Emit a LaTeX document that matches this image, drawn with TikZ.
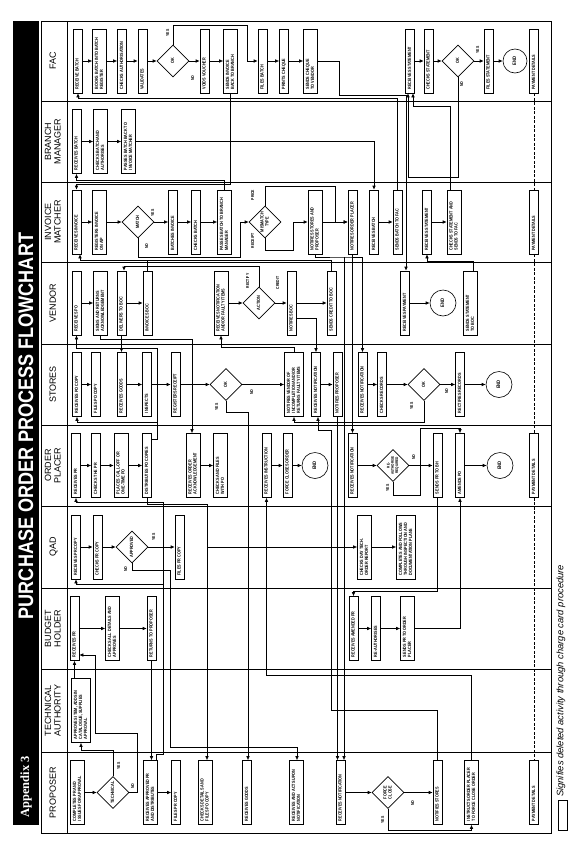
\documentclass[tikz,border=0pt]{standalone}
\usepackage{fontspec}
\usepackage{graphicx}
\setmainfont{Liberation Sans}
\newfontfamily\boxfont{Liberation Sans}[FakeStretch=0.82]
\newfontfamily\appxfont{Liberation Serif}
\usetikzlibrary{shapes.geometric,arrows.meta}

\newcommand\rt[1]{\rotatebox{90}{\begin{tabular}{@{\hspace{1.5pt}}l@{}}#1\end{tabular}}}
\newcommand\rc[1]{\rotatebox{90}{\begin{tabular}{@{}c@{}}#1\end{tabular}}}

\begin{document}
\begin{tikzpicture}
  [x=1pt,y=-1pt,
   box/.style={draw,fill=white,line width=0.6pt,inner sep=2pt,
     text height=60pt,text depth=0pt,
     font=\boxfont\bfseries\fontsize{4.6}{5}\selectfont},
   dec/.style={diamond,aspect=1,draw,fill=white,line width=0.6pt,
     inner sep=0pt,minimum size=32pt,
     font=\boxfont\bfseries\fontsize{4.6}{5}\selectfont},
   endc/.style={circle,draw,fill=white,line width=0.6pt,inner sep=0pt,
     minimum size=26pt,font=\boxfont\bfseries\fontsize{5}{6}\selectfont},
   yn/.style={inner sep=0pt,font=\boxfont\bfseries\fontsize{4.2}{5}\selectfont},
   lanehead/.style={inner sep=0pt,font=\fontsize{9}{9.5}\selectfont},
   arr/.style={line width=0.6pt,-{Latex[length=4pt,width=3.5pt]}},
   pdline/.style={line width=0.5pt,dash pattern=on 3pt off 1.5pt}]
\useasboundingbox (0,0) rectangle (570,841);
\fill [white] (0,0) rectangle (570,841);

\fill (13,21) rectangle (39,825);
\path
    (26,426) node [text=white,inner sep=0pt,
      font=\bfseries\fontsize{21}{21}\selectfont] (title)
      {\rotatebox{90}{\scalebox{0.86}[1]{PURCHASE ORDER PROCESS FLOWCHART}}}
    (26,787) node [text=white,inner sep=0pt,
      font=\appxfont\bfseries\fontsize{12.5}{13}\selectfont] (appx)
      {\rotatebox{90}{Appendix 3}};

\draw [line width=0.9pt] (41,21) rectangle (551,833);
\draw [line width=0.9pt] (67,21) -- (67,833);
\foreach \ly in {101,182,262,344,425,506,588,669,752}
    \draw [line width=0.9pt] (41,\ly) -- (551,\ly);

\path
    (54,61) node [lanehead] (hfac) {\rc{FAC}}
    (54,141.5) node [lanehead] (hbm) {\rc{BRANCH\\MANAGER}}
    (54,222) node [lanehead] (him) {\rc{INVOICE\\MATCHER}}
    (54,303) node [lanehead] (hven) {\rc{VENDOR}}
    (54,384.5) node [lanehead] (hsto) {\rc{STORES}}
    (54,465.5) node [lanehead] (hop) {\rc{ORDER\\PLACER}}
    (54,547) node [lanehead] (hqad) {\rc{QAD}}
    (54,628.5) node [lanehead] (hbh) {\rc{BUDGET\\HOLDER}}
    (54,710.5) node [lanehead] (hta) {\rc{TECHNICAL\\AUTHORITY}}
    (54,792.5) node [lanehead] (hpro) {\rc{PROPOSER}};

\path
    (77.5,61) node [box] (fac1) {\rt{RECEIVE BATCH}}
    (99.5,61) node [box] (fac2) {\rt{BOOKS BATCH INTO BATCH\\REGISTER}}
    (122,61) node [box] (fac3) {\rt{CHECKS AUTHORISATION}}
    (142.5,61) node [box] (fac4) {\rt{VALIDATES}}
    (173,61) node [dec] (facok) {\rc{OK}}
    (204.5,61) node [box] (fac5) {\rt{VOIDS VOUCHER}}
    (230.5,61) node [box] (fac6) {\rt{SENDS INVOICE\\BACK TO BRANCH}}
    (262.5,61) node [box] (fac7) {\rt{FILES BATCH}}
    (284,61) node [box] (fac8) {\rt{PRINTS CHEQUE}}
    (310.5,61) node [box] (fac9) {\rt{SENDS CHEQUE\\TO VENDOR}}
    (410,61) node [box] (fac10) {\rt{RECEIVES STATEMENT}}
    (428.5,61) node [box] (fac11) {\rt{CHECKS STATEMENT}}
    (458,61) node [dec] (facok2) {\rc{OK}}
    (488.5,61) node [box] (fac12) {\rt{FILES STATEMENT}}
    (515,61) node [endc,minimum size=24pt] (facend) {\rc{END}}
    (534,61) node [box] (facpd) {\rt{PAYMENT DETAILS}};

\path
    (76.5,141.5) node [box] (bm1) {\rt{RECEIVES BATCH}}
    (100.5,141.5) node [box] (bm2) {\rt{CHECKS BATCH AND\\AUTHORISES}}
    (128.5,141.5) node [box] (bm3) {\rt{PASSES BATCH BACK TO\\INVOICE MATCHER}};

\path
    (76.5,222) node [box] (im1) {\rt{RECEIVES INVOICE}}
    (99.5,222) node [box] (im2) {\rt{REGISTERS INVOICE\\ON A/P}}
    (138,222) node [dec] (immatch) {\rc{MATCH}}
    (173,222) node [box] (im3) {\rt{BATCHES INVOICE}}
    (196,222) node [box] (im4) {\rt{CHECKS BATCH}}
    (224.5,222) node [box] (im5) {\rt{PASSES BATCH TO BRANCH\\MANAGER}}
    (265,222) node [dec] (immis) {\rc{MISMATCH\\TYPE}}
    (315,222) node [box] (im6) {\rt{NOTIFIES STORES AND\\PROPOSER}}
    (352.5,222) node [box] (im7) {\rt{NOTIFIES ORDER PLACER}}
    (374,222) node [box] (im8) {\rt{RECEIVES BATCH}}
    (397.5,222) node [box] (im9) {\rt{SENDS BATCH TO FAC}}
    (427,222) node [box] (im10) {\rt{RECEIVES STATEMENT}}
    (454,222) node [box] (im11) {\rt{CHECKS STATEMENT AND\\SENDS TO FAC}}
    (534,222) node [box] (impd) {\rt{PAYMENT DETAILS}};

\path
    (76.5,303) node [box] (v1) {\rt{RECEIVES PO}}
    (100.5,303) node [box] (v2) {\rt{SIGNS AND RETURNS\\ACKNOWLEDGEMENT}}
    (121.5,303) node [box] (v3) {\rt{DELIVERS TO BOC}}
    (147.5,303) node [box] (v4) {\rt{INVOICES BOC}}
    (221,303) node [box] (v5) {\rt{RECEIVES NOTIFICATION\\AND/OR FAULTY ITEMS}}
    (259,303) node [dec] (vact) {\rc{ACTION}}
    (291.5,303) node [box] (v6) {\rt{NOTIFIES BOC}}
    (331.5,303) node [box] (v7) {\rt{SENDS CREDIT TO BOC}}
    (405,303) node [box] (v8) {\rt{RECEIVES PAYMENT}}
    (443,303) node [endc] (vend) {\rc{END}}
    (470.5,303) node [box] (v9) {\rt{SENDS STATEMENT\\TO BOC}};

\path
    (77,384.5) node [box] (s1) {\rt{RECEIVES PO COPY}}
    (96,384.5) node [box] (s2) {\rt{FILES PO COPY}}
    (121.5,384.5) node [box] (s3) {\rt{RECEIVES GOODS}}
    (147,384.5) node [box] (s4) {\rt{INSPECTS}}
    (175.5,384.5) node [box] (s5) {\rt{REGISTERS RECEIPT}}
    (226,384.5) node [dec] (sok) {\rc{OK}}
    (294,384.5) node [box] (s6)
      {\rt{NOTIFIES VENDOR OF\\INCOMPLETION AND/OR\\RETURNS FAULTY ITEMS}}
    (316,384.5) node [box] (s7) {\rt{RECEIVES NOTIFICATION}}
    (337.5,384.5) node [box] (s8) {\rt{NOTIFIES PROPOSER}}
    (362.5,384.5) node [box] (s9) {\rt{RECEIVES NOTIFICATION}}
    (382,384.5) node [box] (s10) {\rt{CHECKS RECORDS}}
    (424,384.5) node [dec] (sok2) {\rc{OK}}
    (460,384.5) node [box] (s11) {\rt{RECTIFIES RECORDS}}
    (499,384.5) node [endc] (send) {\rc{END}};

\path
    (76,465.5) node [box] (op1) {\rt{RECEIVES PR}}
    (96,465.5) node [box] (op2) {\rt{CHECKS THE PR}}
    (121,465.5) node [box] (op3) {\rt{PLACES CALL-OFF OR\\ONE-TIME PO}}
    (147,465.5) node [box] (op4) {\rt{DISTRIBUTES PO COPIES}}
    (193,465.5) node [box] (op5) {\rt{RECEIVES ORDER\\ACKNOWLEDGEMENT}}
    (220.5,465.5) node [box] (op6) {\rt{CHECKS AND FILES\\WITH PO}}
    (266.5,465.5) node [box] (op7) {\rt{RECEIVES INSTRUCTION}}
    (287.5,465.5) node [box] (op8) {\rt{FORCE CLOSES ORDER}}
    (315,465.5) node [endc] (opend) {\rc{END}}
    (352.5,465.5) node [box] (op9) {\rt{RECEIVES NOTIFICATION}}
    (393,465.5) node [dec,font=\boxfont\bfseries\fontsize{3.8}{4.2}\selectfont]
      (opre) {\rc{RE-\\AUTHORISE\\REQUIRED}}
    (437.5,465.5) node [box] (op10) {\rt{SENDS PR TO BH}}
    (460,465.5) node [box] (op11) {\rt{AMENDS PO}}
    (500,465.5) node [endc] (opend2) {\rc{END}}
    (534,465.5) node [box] (oppd) {\rt{PAYMENT DETAILS}};

\path
    (76,547) node [box] (q1) {\rt{RECEIVES PR COPY}}
    (97.5,547) node [box] (q2) {\rt{CHECKS PR COPY}}
    (132,547) node [dec] (qapp) {\rc{APPROVED}}
    (179.5,547) node [box] (q3) {\rt{FILES PR COPY}}
    (364.5,547) node [box] (q4) {\rt{CHECKS DAY TECH.\\ORDER REPORT}}
    (406,547) node [box] (q5)
      {\rt{COMPLETES AND FOLLOWS\\THROUGH INSPECTION AND\\DOCUMENTATION PLANS}};

\path
    (74.5,628.5) node [box] (b1) {\rt{RECEIVES PR}}
    (112.5,628.5) node [box] (b2) {\rt{CHECKS ALL DETAILS AND\\APPROVES}}
    (151.5,628.5) node [box] (b3) {\rt{RETURNS TO PROPOSER}}
    (353.5,628.5) node [box] (b4) {\rt{RECEIVES AMENDED PR}}
    (376,628.5) node [box] (b5) {\rt{RE-AUTHORISES}}
    (407.5,628.5) node [box] (b6) {\rt{SENDS PR TO ORDER\\PLACER}};

\path
    (81,710.5) node [box] (t1)
      {\rt{APPROVES ITEM, ADDS IN\\CATALOGUE, SUPPLIES\\APPROVAL}};

\path
    (77.5,792.5) node [box] (p1) {\rt{COMPLETES PR AND\\ISSUES FOR APPROVAL}}
    (113,792.5) node [dec] (ptech) {\rc{TECHNICAL}}
    (150.5,792.5) node [box] (p2) {\rt{RECEIVES APPROVED PR\\AND DISTRIBUTES}}
    (176,792.5) node [box] (p3) {\rt{FILES PR COPY}}
    (205,792.5) node [box] (p4) {\rt{CHECKS DETAILS AND\\FILES PO COPY}}
    (247,792.5) node [box] (p5) {\rt{RECEIVES GOODS}}
    (296.5,792.5) node [box] (p6) {\rt{RECEIVES AND ACTS UPON\\NOTIFICATION}}
    (340.5,792.5) node [box] (p7) {\rt{RECEIVES NOTIFICATION}}
    (388,792.5) node [dec] (pforce) {\rc{FORCE\\CLOSE}}
    (437.5,792.5) node [box] (p8) {\rt{NOTIFIES STORES}}
    (471.5,792.5) node [box] (p9) {\rt{INSTRUCTS ORDER PLACER\\TO FORCE CLOSE ORDER}}
    (534,792.5) node [box] (ppd) {\rt{PAYMENT DETAILS}};

\path
    (168,33) node [yn] (lfy) {\rc{YES}}
    (193,78) node [yn] (lfn) {\rc{NO}}
    (478,50) node [yn] (lf2y) {\rc{YES}}
    (462,84) node [yn] (lf2n) {\rc{NO}}
    (153,213) node [yn] (lmy) {\rc{YES}}
    (147,246) node [yn] (lmn) {\rc{NO}}
    (253,195) node [yn] (lmp) {\rc{PRICE}}
    (253,241) node [yn] (lmr) {\rc{RECEIPT}}
    (248,281) node [yn] (lvr) {\rc{RECTIFY}}
    (278,283) node [yn] (lvc) {\rc{CREDIT}}
    (217,407) node [yn] (lsy) {\rc{YES}}
    (252,392) node [yn] (lsn) {\rc{NO}}
    (412,406) node [yn] (ls2y) {\rc{YES}}
    (447,391) node [yn] (ls2n) {\rc{NO}}
    (388,488) node [yn] (loy) {\rc{YES}}
    (414,457) node [yn] (lon) {\rc{NO}}
    (154,537) node [yn] (lqy) {\rc{YES}}
    (126,569) node [yn] (lqn) {\rc{NO}}
    (119,766) node [yn] (lpy) {\rc{YES}}
    (133,786) node [yn] (lpn) {\rc{NO}}
    (383,820) node [yn] (lp2y) {\rc{YES}}
    (413,803) node [yn] (lp2n) {\rc{NO}};

\foreach \a/\b in {fac1/fac2,fac2/fac3,fac3/fac4,fac4/facok,facok/fac5,
    fac5/fac6,fac7/fac8,fac8/fac9,fac10/fac11,fac11/facok2,facok2/fac12,
    fac12/facend,bm1/bm2,bm2/bm3,im1/im2,im2/immatch,immatch/im3,im3/im4,
    im4/im5,im6/im7,im8/im9,im10/im11,v1/v2,v3/v4,v5/vact,vact/v6,v6/v7,
    v8/vend,s1/s2,s3/s4,s4/s5,s5/sok,sok/s6,s7/s8,s9/s10,s10/sok2,
    sok2/s11,s11/send,op1/op2,op2/op3,op3/op4,op5/op6,op7/op8,op8/opend,
    op9/opre,op11/opend2,q1/q2,q2/qapp,qapp/q3,q4/q5,b1/b2,b2/b3,b4/b5,
    b5/b6,p1/ptech,p2/p3,p7/pforce,pforce/p8,v3/s3,im7/op9}
    \draw [arr] (\a) -- (\b);

\coordinate (jnotif) at (344,257);
\coordinate (jpo) at (157,422);
\coordinate (jqad) at (207,547);
\coordinate (jpr) at (163,584);

\draw [arr] (facok.north) |- (247,25) |- (fac7);
\draw [arr] (fac6.south) -- (230.5,184) -| (im1.north);
\draw [arr] (im5.north) -- (224.5,180) -| (bm1.south);
\draw [arr] (bm3) -| (im8.north);
\draw [arr] (fac9) -| (339,95) -| ([xshift=1pt]v8.north);
\draw [arr] (im9.north) |- (78,98) -- ([xshift=0.5pt]fac1.south);
\draw [arr] (facok2.south) |- (408,177) -- ([xshift=-2pt]fac10.south);
\draw [arr] ([xshift=-4pt]im11.north) |- (413,106) -- ([xshift=3pt]fac10.south);
\draw [arr] (immatch.south) |- (240,257) |- (immis);
\draw [arr] (immis.north) |- (335,186) |- (im7);
\draw [arr] (immis.south) |- (293,250) |- (im6);
\draw [arr] (im6.south) |- (jnotif) -| (s9.north);
\draw [arr] (jnotif) -- (jnotif |- p7.north);
\draw [arr] ([xshift=3pt]v9.north) |- (427,261) -- (im10.south);
\draw [arr] (v7.north) |- (80,260) -- ([xshift=3.5pt]im1.south);
\draw [line width=0.6pt] (v4.north) -- +(0,-11);
\draw [arr] (vact.north) |- (124,266) -- ([xshift=2.5pt]v3.north);
\draw [arr] (v2.south) |- (192,339) -- ([xshift=-1pt]op5.north);
\draw [arr] (s6.north) |- (221,347) -- (v5.south);
\draw [arr] ([yshift=-15pt]v6.east) -| (s7.north);
\draw [arr] ([yshift=-6pt]op4.north east) -| (157,348) -| (v1.south);
\draw [arr] (jpo) -| (s1.south);
\draw [arr] (sok.south) |- (248,412) -- ([xshift=1pt]p5.north);
\draw [arr] (sok2.south) |- (294,422) -- (s6.south);
\draw [arr] (p8.north) |- (331,710) |- (318,430) -- ([xshift=2pt]s7.south);
\draw [arr] (s8) -- (s8 |- p7.north);
\draw [arr] (opre.south) |- (420,495) |- (op10);
\draw [arr] (opre.east) -| (420,428) -| (op11.north);
\draw [arr] (op10.south) |- (353.5,591) -- (b4.north);
\draw [arr] (b6) -| (op11.south);
\draw [arr] (p9.north) |- (266.5,675) -- (op7.south);
\draw [arr] (pforce.south) |- (471.5,830) -- (p9.south);
\draw [arr] (qapp.south) |- (170,570) |- (297,747) -- ([xshift=0.5pt]p6.north);
\draw [arr] (op4.south) |- (207,504.5) -- ([xshift=2pt]p4.north);
\draw [arr] (jqad) -- (q4);
\draw [arr] ([xshift=-2pt]p2.north east) |- (163,754) |- (76,502) -- (op1.south);
\draw [arr] (jpr) -| (q1.south);
\draw [arr] (ptech.north) |- (81,750) -- (t1.south);
\draw [arr] (ptech.east) -| (137,733) -| (95,655) -- ([yshift=-26.5pt]b1.east);
\draw [arr] (b1 |- t1.north) -- (b1);
\draw [arr] (b3) -- (b3 |- p2.north);
\draw [pdline] (facpd) -- (impd) -- (oppd) -- (ppd);

\draw [line width=0.5pt] (558,800) rectangle (567,830);
\path
    (561,797) node [anchor=south,inner sep=0pt,
      font=\itshape\fontsize{9.4}{10}\selectfont] (note)
      {\rotatebox{90}{Signifies deleted activity through charge card procedure}};
\end{tikzpicture}
\end{document}
